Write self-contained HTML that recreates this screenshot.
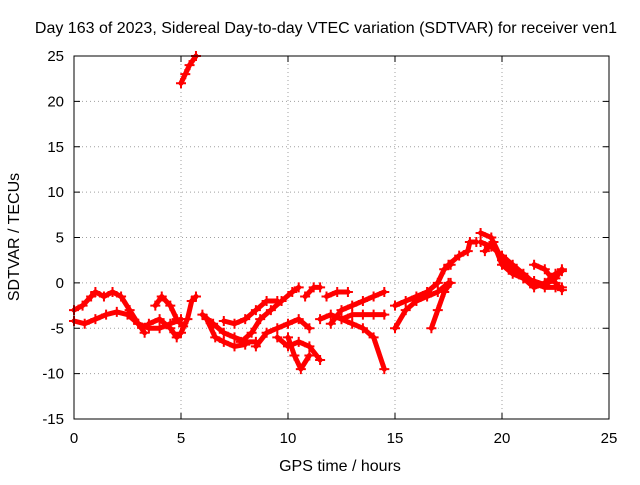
<!DOCTYPE html>
<html><head><meta charset="utf-8"><style>
body{margin:0;background:#fff;}
svg text{font-family:"Liberation Sans",sans-serif;font-size:15px;fill:#000;}
svg text.big{font-size:16px;}
</style></head><body>
<svg id="chart" width="640" height="480" xmlns="http://www.w3.org/2000/svg">
<rect width="640" height="480" fill="#fff"/>
<text class="big" x="326" y="33" text-anchor="middle">Day 163 of 2023, Sidereal Day-to-day VTEC variation (SDTVAR) for receiver ven1</text>
<g id="grid"></g><g id="axes"></g><g id="series"></g>
<rect x="74" y="56" width="535" height="363" fill="none" stroke="#000" stroke-width="1"/>
<text class="big" x="340" y="471" text-anchor="middle">GPS time / hours</text>
<text class="big" transform="translate(19,237) rotate(-90)" text-anchor="middle">SDTVAR / TECUs</text>
</svg>
<script>
const xTicks=[0,5,10,15,20,25];
const yTicks=[-15,-10,-5,0,5,10,15,20,25];
const track1=[[5.0,22],[5.2,23],[5.4,24],[5.7,25]];
const track2=[[0,-3],[0.4,-2.5],[0.8,-1.5],[1.0,-1],[1.4,-1.5],[1.8,-1],[2.2,-1.5],[2.6,-3],[3.0,-4.5],[3.3,-5.5]];
const track3=[[0,-4.2],[0.5,-4.5],[1.0,-4],[1.5,-3.5],[2.0,-3.2],[2.5,-3.5],[3,-4.5],[3.5,-5],[4,-5],[4.5,-4.5],[5,-4]];
const track4=[[3.8,-2.5],[4.1,-1.5],[4.5,-2.5],[4.8,-4],[5.1,-4.8]];
const track5=[[3.5,-4.5],[4,-4],[4.5,-5],[4.8,-6],[5,-5.5],[5.3,-4],[5.5,-2],[5.7,-1.5]];
const track6=[[6.0,-3.5],[6.5,-4.5],[7,-5.5],[7.5,-6],[8,-6.5],[8.5,-6.5]];
const track7=[[6.2,-4],[6.6,-6],[7,-6.5],[7.5,-7],[8,-6.8]];
const track8=[[7,-4.2],[7.5,-4.5],[8,-4],[8.5,-3],[9,-2],[9.5,-2]];
const track9=[[7.8,-6.5],[8.3,-5.5],[8.7,-4],[9.2,-3],[9.7,-2],[10.2,-1],[10.5,-0.5]];
const track10=[[8.5,-7],[9,-5.5],[9.5,-5],[10,-4.5],[10.5,-4],[11,-5]];
const track11=[[9.5,-6],[10,-7],[10.5,-6.5],[11,-7],[11.5,-8.5]];
const track12=[[10,-6],[10.3,-8],[10.6,-9.5],[11,-8]];
const track13=[[10.8,-1.5],[11.2,-0.5],[11.5,-0.5]];
const track14=[[11.5,-4],[12,-3.5],[12.5,-4],[13,-4.5],[13.5,-5],[14,-6],[14.5,-9.5]];
const track15=[[12,-4.5],[12.5,-3],[13,-2.5],[13.5,-2],[14,-1.5],[14.5,-1]];
const track16=[[11.8,-1.5],[12.3,-1],[12.8,-1]];
const track17=[[12.5,-4],[13,-3.5],[13.5,-3.5],[14,-3.5],[14.5,-3.5]];
const track18=[[15,-5],[15.5,-3],[16,-2],[16.5,-1.5],[17,-1],[17.5,0]];
const track19=[[15,-2.5],[15.5,-2],[16,-1.5],[16.5,-1],[17,0],[17.3,1.5],[17.6,2]];
const track20=[[16.7,-5],[17,-3],[17.3,-1],[17.6,0]];
const track21=[[17.5,2],[18,3],[18.4,3.5],[18.5,4.5],[18.8,4.5]];
const track22=[[19,4.5],[19.5,4],[20,3],[20.5,2],[21,1],[21.5,0],[22,-0.5],[22.5,-0.5],[22.8,-0.5]];
const track23=[[19.2,3.5],[19.6,4.5],[20,2.5],[20.5,1.5],[21,0.5],[21.5,0.2],[22,-0.2],[22.5,0.5],[22.8,1.5]];
const track24=[[19,5.5],[19.5,5],[20,2],[20.5,1],[21,0.5],[21.5,-0.5],[22,0],[22.5,1],[22.8,1.3]];
const track25=[[21.5,2],[22,1.5],[22.5,0],[22.8,-0.8]];
const tracks=[track1,track2,track3,track4,track5,track6,track7,track8,track9,track10,track11,track12,track13,track14,track15,track16,track17,track18,track19,track20,track21,track22,track23,track24,track25];

const NS="http://www.w3.org/2000/svg";
const X=v=>74+v*535/25, Y=v=>419-(v+15)*363/40;
function mk(t,a,p){const e=document.createElementNS(NS,t);for(const k in a)e.setAttribute(k,a[k]);p.appendChild(e);return e;}
const grid=document.getElementById('grid'),axes=document.getElementById('axes'),ser=document.getElementById('series');
xTicks.forEach(v=>{
  if(v>0&&v<25){const l=mk('line',{x1:X(v),x2:X(v),y1:56,y2:419,stroke:'#a0a0a0','stroke-dasharray':'1,3'},grid);
  
  }
  mk('line',{x1:X(v),x2:X(v),y1:419,y2:413,stroke:'#000'},axes);
  mk('line',{x1:X(v),x2:X(v),y1:56,y2:62,stroke:'#000'},axes);
  const t=mk('text',{x:X(v),y:443,'text-anchor':'middle'},axes);t.textContent=v;
  
  
});
yTicks.forEach(v=>{
  if(v>-15&&v<25){const l=mk('line',{x1:74,x2:609,y1:Y(v),y2:Y(v),stroke:'#a0a0a0','stroke-dasharray':'1,3'},grid);
  
  }
  mk('line',{x1:74,x2:80,y1:Y(v),y2:Y(v),stroke:'#000'},axes);
  mk('line',{x1:603,x2:609,y1:Y(v),y2:Y(v),stroke:'#000'},axes);
  const t=mk('text',{x:64,y:Y(v)+5,'text-anchor':'end'},axes);t.textContent=v;
  
  
});
tracks.forEach(tr=>{
  const g=mk('g',{},ser);
  
  
  mk('polyline',{points:tr.map(p=>X(p[0])+','+Y(p[1])).join(' '),fill:'none',stroke:'#f00','stroke-width':5,'stroke-linejoin':'round','stroke-linecap':'round'},g);
  tr.forEach(p=>{const x=X(p[0]),y=Y(p[1]);
    mk('path',{d:`M${x-5},${y}H${x+5}M${x},${y-5}V${y+5}`,stroke:'#f00','stroke-width':2},g);});
});
</script>
</body></html>
